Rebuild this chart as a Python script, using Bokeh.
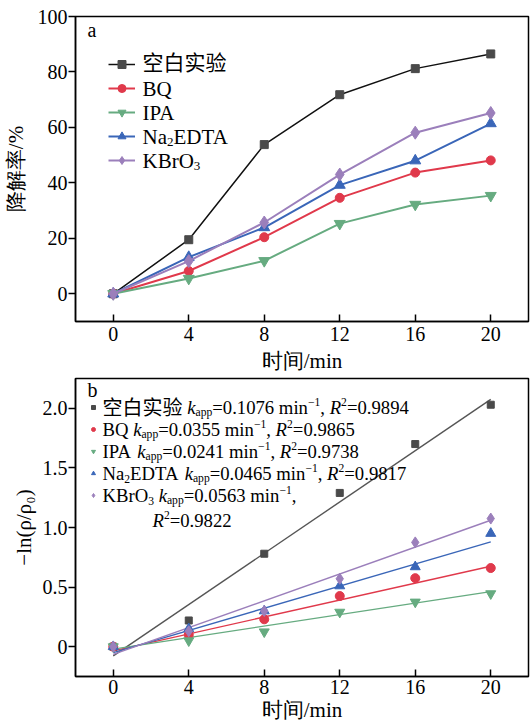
from bokeh.plotting import figure
from bokeh.models import Range1d, FixedTicker, Legend, LegendItem, Label
from bokeh.layouts import column
from bokeh.embed import file_html
from bokeh.resources import INLINE

# ---------------- data ----------------
time_min = [0, 4, 8, 12, 16, 20]
series_names = ["空白实验", "BQ", "IPA", "Na2EDTA", "KBrO3"]

deg_blank = [0, 19.5, 53.8, 71.8, 81.2, 86.5]
deg_bq = [0, 8.2, 20.4, 34.6, 43.7, 48.1]
deg_ipa = [0, 5.5, 11.9, 25.3, 32.2, 35.4]
deg_edta = [0, 13.2, 23.9, 39.2, 48.0, 61.4]
deg_kbro3 = [0, 11.8, 25.7, 43.0, 58.1, 65.2]

lnr_blank = [0, 0.22, 0.78, 1.29, 1.70, 2.03]
lnr_bq = [0, 0.10, 0.23, 0.425, 0.575, 0.66]
lnr_ipa = [0, 0.05, 0.125, 0.29, 0.375, 0.445]
lnr_edta = [0, 0.15, 0.30, 0.51, 0.67, 0.95]
lnr_kbro3 = [0, 0.13, 0.30, 0.57, 0.875, 1.075]

k_app = [0.1076, 0.0355, 0.0241, 0.0465, 0.0563]
fit_intercept = [-0.077, -0.035, -0.020, -0.050, -0.065]
r_squared = [0.9894, 0.9865, 0.9738, 0.9817, 0.9822]

x_ticks = [0, 4, 8, 12, 16, 20]
top_y_ticks = [0, 20, 40, 60, 80, 100]
bottom_y_ticks = [0, 0.5, 1.0, 1.5, 2.0]

# ---------------- style ----------------
FONT = "Liberation Serif"
CJK = "Noto Sans CJK SC"
colors = ["#4a4a4a", "#e0394b", "#66ab80", "#3a66b8", "#9b7fbb"]
line_colors = ["#111111", "#e0394b", "#66ab80", "#3a66b8", "#9b7fbb"]
fit_colors = ["#555555", "#e0394b", "#66ab80", "#3a66b8", "#9b7fbb"]
markers = ["square", "circle", "inverted_triangle", "triangle", "diamond"]
top_sizes = [8, 9, 11, 11, 13]
bot_sizes = [7, 9, 10, 10, 11]

REG = {" ": .25, ",": .25, ".": .25, "/": .278, "=": .564, "−": .564,
       "A": .722, "B": .667, "D": .722, "E": .611, "I": .333, "K": .722,
       "N": .722, "O": .722, "P": .556, "Q": .722, "R": .667, "T": .611,
       "a": .444, "i": .278, "m": .778, "n": .5, "p": .5, "r": .333, "k": .5}
ITAL = {"k": .444, "R": .611}


def is_cjk(ch):
    return ord(ch) >= 0x2E80


def run_width(text, size, italic=False):
    t = 0.0
    for ch in text:
        if is_cjk(ch):
            t += 1.0
        elif italic and ch in ITAL:
            t += ITAL[ch]
        else:
            t += REG.get(ch, 0.5)
    return t * size


def add_runs(p, fh, x0, c_top, runs, base):
    # c_top: text centre measured down from the frame top
    y_mid = fh - c_top
    x = x0
    for text, scale, style, dy in runs:
        size = base * scale
        if text.strip():
            font = CJK if any(is_cjk(c) for c in text) else FONT
            p.add_layout(Label(x=x, y=y_mid + dy * base, x_units="screen", y_units="screen",
                               text=text, text_font=font, text_font_size=f"{size:.1f}px",
                               text_font_style=style, text_baseline="middle",
                               text_align="left", text_color="black"))
        x += run_width(text, size, style == "italic")


def style_fig(p, yticks):
    p.xgrid.visible = False
    p.ygrid.visible = False
    p.outline_line_color = "black"
    p.outline_line_width = 1.5
    p.outline_line_alpha = 1
    p.xaxis.ticker = FixedTicker(ticks=x_ticks)
    p.yaxis.ticker = FixedTicker(ticks=yticks)
    for ax in (p.xaxis[0], p.yaxis[0]):
        ax.axis_line_width = 1.5
        ax.axis_line_color = "black"
        ax.major_tick_line_width = 1.5
        ax.major_tick_line_color = "black"
        ax.minor_tick_line_color = None
        ax.major_label_text_font = FONT
        ax.major_label_text_font_size = "20px"
        ax.major_label_text_color = "black"
        ax.axis_label_text_font = FONT
        ax.axis_label_text_font_size = "21px"
        ax.axis_label_text_font_style = "normal"
        ax.axis_label_text_color = "black"
    p.xaxis.major_tick_in = 7
    p.xaxis.major_tick_out = 0
    p.yaxis.major_tick_in = 0
    p.yaxis.major_tick_out = 7
    p.yaxis.major_label_standoff = 1
    p.background_fill_color = "white"
    p.border_fill_color = "white"


SUB, SUP = -0.28, 0.30
name_runs = [
    [("空白实验", 1.0, "normal", 0.15)],
    [("BQ", 1.0, "normal", 0)],
    [("IPA", 1.0, "normal", 0)],
    [("Na", 1.0, "normal", 0), ("2", 0.62, "normal", SUB), ("EDTA", 1.0, "normal", 0)],
    [("KBrO", 1.0, "normal", 0), ("3", 0.62, "normal", SUB)],
]

# ---------------- top panel ----------------
TFH, TTB = 305, 16
top = figure(frame_width=453, frame_height=TFH, min_border_left=75, min_border_right=2,
             min_border_top=TTB, min_border_bottom=10,
             x_range=Range1d(-2, 22), y_range=Range1d(-10, 100),
             output_backend="svg", toolbar_location=None)
style_fig(top, top_y_ticks)
top.xaxis.axis_label = "时间/min"
top.yaxis.axis_label = "降解率/%"
top.xaxis.major_label_standoff = 5
top.xaxis.axis_label_standoff = 5
top.yaxis.axis_label_standoff = 7

deg_series = [deg_blank, deg_bq, deg_ipa, deg_edta, deg_kbro3]
top_items = []
for i, ys in enumerate(deg_series):
    lw = 1.5 if i == 0 else 2
    l = top.line(time_min, ys, line_color=line_colors[i], line_width=lw)
    s = top.scatter(time_min, ys, marker=markers[i], size=top_sizes[i],
                    fill_color=colors[i], line_color=colors[i])
    top_items.append(LegendItem(label=" ", renderers=[l, s]))

leg_top = Legend(items=top_items, location=(33, TFH - 38 - (5 * 20 + 4 * 4)),
                 glyph_width=27, glyph_height=20, label_height=20, label_width=1,
                 spacing=4, padding=0, margin=0, label_standoff=0,
                 label_text_font_size="1px", border_line_color=None,
                 background_fill_alpha=0)
top.add_layout(leg_top)
for i in range(5):
    add_runs(top, TFH, 67, 48 + 24 * i, name_runs[i], 21)
add_runs(top, TFH, 12, 13, [("a", 1.0, "normal", 0)], 20)

# ---------------- bottom panel ----------------
BFH, BTB = 298, 3
bot = figure(frame_width=453, frame_height=BFH, min_border_left=75, min_border_right=2,
             min_border_top=BTB, min_border_bottom=10,
             x_range=Range1d(-2, 22), y_range=Range1d(-0.25, 2.25),
             output_backend="svg", toolbar_location=None)
style_fig(bot, bottom_y_ticks)
bot.xaxis.axis_label = "时间/min"
bot.yaxis.axis_label = "−ln(ρ/ρ₀)"
bot.yaxis.major_label_overrides = {0: "0", 0.5: "0.5", 1.0: "1.0", 1.5: "1.5", 2.0: "2.0"}
bot.xaxis.major_label_standoff = 3
bot.xaxis.axis_label_standoff = 1
bot.yaxis.axis_label_standoff = 4

lnr_series = [lnr_blank, lnr_bq, lnr_ipa, lnr_edta, lnr_kbro3]
bot_items = []
for i, ys in enumerate(lnr_series):
    fx = [time_min[0], time_min[-1]]
    fy = [k_app[i] * t + fit_intercept[i] for t in fx]
    bot.line(fx, fy, line_color=fit_colors[i], line_width=1.4)
for i, ys in enumerate(lnr_series):
    s = bot.scatter(time_min, ys, marker=markers[i], size=bot_sizes[i],
                    fill_color=colors[i], line_color=colors[i])
    bot_items.append(LegendItem(label=" ", renderers=[s]))

leg_bot = Legend(items=bot_items, location=(13, BFH - 20 - (5 * 18 + 4 * 4)),
                 glyph_width=10, glyph_height=18, label_height=18, label_width=1,
                 spacing=4, padding=0, margin=0, label_standoff=0,
                 label_text_font_size="1px", border_line_color=None,
                 background_fill_alpha=0)
bot.add_layout(leg_bot)

B = 18.7
for i in range(5):
    nr = [(t, (1.07 if is_cjk(t[0]) else sc), st, (0.05 if is_cjk(t[0]) else dy))
          for (t, sc, st, dy) in name_runs[i]]
    runs = nr + [(" ", 1.0, "normal", 0), ("k", 1.0, "italic", 0), ("app", 0.62, "normal", SUB),
                 (f"={k_app[i]:.4f} min", 1.0, "normal", 0), ("−1", 0.62, "normal", SUP)]
    tail = [(", ", 1.0, "normal", 0), ("R", 1.0, "italic", 0), ("2", 0.62, "normal", SUP),
            (f"={r_squared[i]:.4f}", 1.0, "normal", 0)]
    if i < 4:
        add_runs(bot, BFH, 27, 29 + 22 * i, runs + tail, B)
    else:
        add_runs(bot, BFH, 27, 29 + 22 * i, runs + [(",", 1.0, "normal", 0)], B)
        add_runs(bot, BFH, 77, 29 + 22 * i + 25, tail[1:], B)
add_runs(bot, BFH, 12, 11, [("b", 1.0, "normal", 0)], 20)

layout = column(top, bot, spacing=0)
open("out.html", "w").write(file_html(layout, INLINE))
